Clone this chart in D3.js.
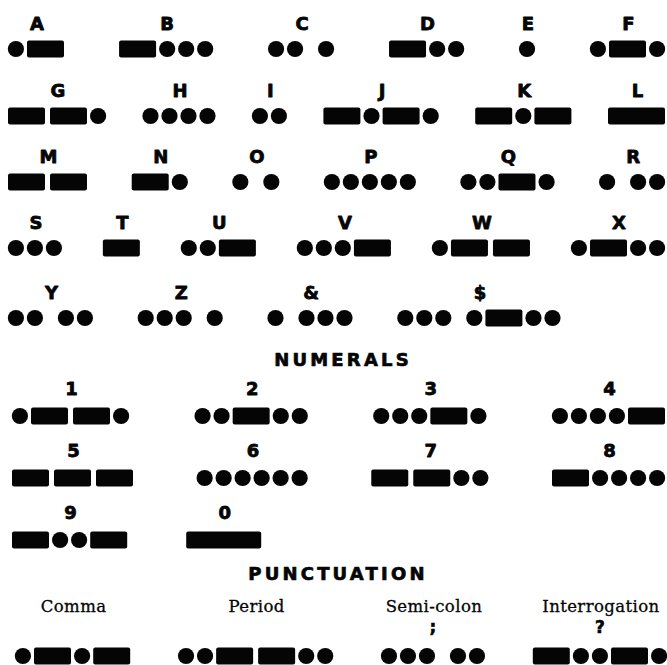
<!DOCTYPE html>
<html><head><meta charset="utf-8">
<script src="https://cdn.jsdelivr.net/npm/d3@7"></script>
<style>html,body{margin:0;padding:0;background:#fff;}svg{display:block;}</style>
</head><body>
<script>
// ---- data ----
const letterLabels = ["A","B","C","D","E","F","G","H","I","J","K","L","M","N","O","P","Q","R","S","T","U","V","W","X","Y","Z","&","$"];
const letterCodes  = [".-","-...",".. .","-..",".",".-.","--.","....","..","-.-.","-.-","L","--","-.",". .",".....","..-.",". ..","...","-","..-","...-",".--",".-..",".. ..","... .",". ...","... .-.."];
const numeralLabels = ["1","2","3","4","5","6","7","8","9","0"];
const numeralCodes  = [".--.","..-..","...-.","....-","---","......","--..","-....","-..-","0"];
const punctNames   = ["Comma","Period","Semi-colon","Interrogation"];
const punctSymbols = ["","",";","?"];
const punctCodes   = [".-.-","..--..","... ..","-..-."];
const sectionTitles = ["NUMERALS","PUNCTUATION"];

// ---- scales ----
const W = 667, H = 665;
const INK = "#050505";
const elemWidth = d3.scaleOrdinal().domain([".","-","L","0"]).range([15.8,37,57,75]);
const letterRowY = d3.scaleOrdinal().domain([0,1,2,3,4]).range([49,116,182,248,318]);
const numeralRowY = d3.scaleOrdinal().domain([0,1,2]).range([416,478,540]);

const svg = d3.select("body").append("svg").attr("width",W).attr("height",H);

function layoutCode(code){
  const els=[]; let x=0, prev=null, spaced=false;
  for(const ch of code){
    if(ch===" "){spaced=true;continue;}
    if(prev) x += (prev!=="." && ch!==".") ? 5 : 3.2;
    if(spaced) x += 12;
    const w = elemWidth(ch);
    els.push({t:ch,x,w});
    x+=w; prev=ch; spaced=false;
  }
  return {els,width:x};
}

function drawRow(items, cy, left, right, fixedGap){
  const lay = items.map(d=>Object.assign({},d,layoutCode(d.code)));
  const sum = d3.sum(lay,d=>d.width);
  const gap = fixedGap!=null ? fixedGap : (right-left-sum)/(lay.length-1);
  let x = left;
  lay.forEach(d=>{d.x0=x; x+=d.width+gap;});
  const g = svg.append("g");
  lay.forEach(d=>{
    const gg = g.append("g").attr("transform",`translate(${d.x0},${cy})`);
    gg.selectAll("circle").data(d.els.filter(e=>e.t===".")).join("circle")
      .attr("cx",e=>e.x+e.w/2).attr("cy",0).attr("r",8.1).attr("fill",INK);
    gg.selectAll("rect").data(d.els.filter(e=>e.t!==".")).join("rect")
      .attr("x",e=>e.x).attr("y",-8.6).attr("width",e=>e.w).attr("height",17.2)
      .attr("rx",2).attr("fill",INK);
    const cx = d.width/2;
    if(d.label!=null){
      const t = gg.append("text").attr("x",cx+1).attr("y",d.labelDy)
        .attr("text-anchor","middle")
        .style("font-family",d.serif?"'DejaVu Serif',serif":"'DejaVu Sans',sans-serif")
        .style("font-weight",d.serif?"normal":"bold")
        .style("font-size",d.serif?"16.5px":"18px")
        .style("letter-spacing",d.serif?"0.4px":"0px")
        .attr("fill",INK).text(d.label);
      if(!d.serif) t.attr("stroke",INK).attr("stroke-width",0.8).attr("stroke-linejoin","round");
      else t.attr("stroke",INK).attr("stroke-width",0.3);
    }
    if(d.symbol){
      gg.append("text").attr("x",cx).attr("y",-23)
        .attr("text-anchor","middle")
        .style("font-family","'DejaVu Sans',sans-serif").style("font-weight","bold")
        .style("font-size","17px").attr("fill",INK)
        .attr("stroke",INK).attr("stroke-width",0.6).text(d.symbol);
    }
  });
}

// letters
const letters = letterLabels.map((l,i)=>({label:l,code:letterCodes[i],labelDy:-19}));
for(let r=0;r<5;r++){
  const row = letters.slice(r*6,r*6+6);
  drawRow(row, letterRowY(r), 8, 665, r===4?45:null);
}

// section titles
function title(t,x,y){
  svg.append("text").attr("x",x).attr("y",y).attr("text-anchor","middle")
    .style("font-family","'DejaVu Sans',sans-serif").style("font-weight","bold")
    .style("font-size","18px").style("letter-spacing","3.2px")
    .attr("fill",INK).attr("stroke",INK).attr("stroke-width",0.7).attr("stroke-linejoin","round")
    .text(t);
}
title(sectionTitles[0], 343, 366);

// numerals
const nums = numeralLabels.map((l,i)=>({label:l,code:numeralCodes[i],labelDy:-21}));
for(let r=0;r<3;r++){
  const row = nums.slice(r*4,r*4+4);
  drawRow(row, numeralRowY(r), 12, 665, r===2?59:null);
}

title(sectionTitles[1], 338, 580);

// punctuation
const punct = punctNames.map((n,i)=>({label:n,code:punctCodes[i],symbol:punctSymbols[i],labelDy:-44,serif:true}));
drawRow(punct, 656, 15, 667, null);
</script>
</body></html>
